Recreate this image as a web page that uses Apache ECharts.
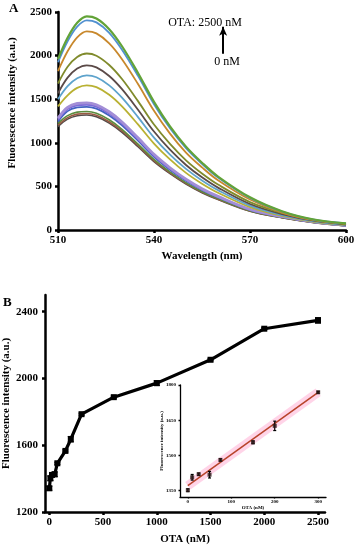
<!DOCTYPE html>
<html>
<head>
<meta charset="utf-8">
<script src="https://cdn.jsdelivr.net/npm/echarts@6/dist/echarts.min.js"></script>
<style>html,body{margin:0;padding:0;background:#fff}#c{width:357px;height:550px}</style>
</head>
<body>
<div id="c"></div>
<script>
// ---------- Panel A: emission spectra ----------
const wavelengths = [510,513,516,519,522,526,530,535,540,545,550,555,560,570,580,590,600];
const spec01 = [1960,2205,2377,2450,2426,2303,2107,1801,1470,1188,956,772,613,375,216,120,76];
const spec02 = [1924,2165,2333,2405,2381,2261,2068,1768,1443,1166,938,758,601,368,212,118,75];
const spec03 = [1822,2050,2210,2278,2255,2141,1959,1674,1367,1105,888,718,570,349,200,112,71];
const spec04 = [1680,1872,1984,2024,1999,1892,1731,1478,1209,987,799,648,521,320,196,114,68];
const spec05 = [1568,1747,1851,1889,1865,1766,1615,1379,1129,921,746,604,486,298,183,107,63];
const spec06 = [1499,1650,1740,1774,1752,1659,1517,1295,1060,865,701,568,457,280,172,100,59];
const spec07 = [1418,1545,1630,1659,1638,1551,1418,1211,991,809,655,531,427,262,161,94,56];
const spec08 = [1283,1407,1451,1458,1436,1356,1239,1057,868,714,583,474,386,238,155,93,52];
const spec09 = [1265,1388,1431,1438,1416,1337,1222,1043,856,705,575,467,381,234,152,92,52];
const spec10 = [1243,1363,1405,1412,1391,1313,1200,1024,840,692,565,459,374,230,150,90,51];
const spec11 = [1223,1311,1352,1359,1339,1264,1155,985,809,666,544,442,360,222,144,87,49];
const spec12 = [1202,1289,1329,1336,1316,1242,1136,969,795,655,534,434,354,218,142,86,48];
const spec13 = [1186,1272,1311,1318,1298,1226,1120,956,784,646,527,428,349,215,140,84,47];
const spectra = [spec13,spec12,spec11,spec10,spec09,spec08,spec07,spec06,spec05,spec04,spec03,spec02,spec01];
const specColors = ['#544c4a','#9a5a42','#5c8c3e','#4262c2','#7b6ad8','#a38ed6','#b9b132','#5ea3cc','#5b4a48','#808b2c','#c8882c','#5190d0','#62a338'];
const specWidths = [1.6,1.6,1.6,1.8,2.2,2.8,1.8,1.8,1.8,1.8,1.8,1.8,2.2];
const xTicksA = [510,540,570,600];
const yTicksA = [0,500,1000,1500,2000,2500];

// ---------- Panel B: intensity vs OTA ----------
const otaConc = [0,10,25,50,75,150,200,300,600,1000,1500,2000,2500];
const otaIntensity = [1342,1402,1422,1426,1492,1566,1636,1786,1888,1972,2112,2298,2348];
const otaError = [12,14,8,14,6,6,16,6,6,14,6,6,16];
const xTicksB = [0,500,1000,1500,2000,2500];
const yTicksB = [1200,1600,2000,2400];

// ---------- Inset: linear range ----------
const insetConc = [0,10,25,50,75,150,200,300];
const insetIntensity = [1352,1407,1420,1418,1481,1556,1626,1769];
const insetError = [6,12,5,14,5,6,20,4];
const insetFitX = [0,300];
const insetFitY = [1371,1769];
const xTicksIn = [0,100,200,300];
const yTicksIn = [1350,1500,1650,1800];

const serif = '"Liberation Serif","DejaVu Serif",serif';

function axisCommon(lw, fs, margin, tickLen, ticks) {
  return {
    nameMoveOverlap: false,
    axisLine: {show: true, onZero: false, lineStyle: {color: '#000', width: lw}},
    axisTick: {show: true, inside: false, length: tickLen, lineStyle: {color: '#000', width: lw}, customValues: ticks},
    axisLabel: {color: '#000', fontFamily: serif, fontWeight: 'bold', fontSize: fs, margin: margin,
      customValues: ticks, formatter: v => String(v)},
    splitLine: {show: false},
    nameTextStyle: {color: '#000', fontFamily: serif, fontWeight: 'bold', fontSize: fs}
  };
}

function errRender(params, api) {
  const x = api.value(0), y = api.value(1), e = api.value(2);
  const capW = api.value(3);
  const top = api.coord([x, y + e]);
  const bot = api.coord([x, y - e]);
  const st = {stroke: '#000', lineWidth: 1.2};
  return {type: 'group', children: [
    {type: 'line', shape: {x1: top[0], y1: top[1], x2: bot[0], y2: bot[1]}, style: st},
    {type: 'line', shape: {x1: top[0]-capW, y1: top[1], x2: top[0]+capW, y2: top[1]}, style: st},
    {type: 'line', shape: {x1: bot[0]-capW, y1: bot[1], x2: bot[0]+capW, y2: bot[1]}, style: st}
  ]};
}

const series = [];
spectra.forEach((arr, i) => {
  series.push({
    type: 'line', xAxisIndex: 0, yAxisIndex: 0, smooth: 0.35, showSymbol: false, silent: true,
    data: wavelengths.map((w, k) => [w, arr[k]]),
    lineStyle: {color: specColors[i], width: specWidths[i]},
    z: 2 + i
  });
});
// arrow annotation in panel A
series.push({
  type: 'line', xAxisIndex: 0, yAxisIndex: 0, data: [], silent: true,
  markLine: {silent: true, symbol: ['none', 'arrow'], symbolSize: [6, 9], label: {show: false},
    lineStyle: {color: '#000', width: 2, type: 'solid'},
    data: [[{coord: [561.6, 2020]}, {coord: [561.6, 2330]}]]}
});
// panel B
series.push({
  type: 'custom', xAxisIndex: 1, yAxisIndex: 1, renderItem: errRender, silent: true, z: 5,
  data: otaConc.map((c, k) => [c, otaIntensity[k], otaError[k], 3])
});
series.push({
  type: 'line', xAxisIndex: 1, yAxisIndex: 1, silent: true, z: 4,
  data: otaConc.map((c, k) => [c, otaIntensity[k]]),
  symbol: 'rect', symbolSize: 6, showAllSymbol: true,
  itemStyle: {color: '#000'}, lineStyle: {color: '#000', width: 3.2}
});
// inset
series.push({
  type: 'line', xAxisIndex: 2, yAxisIndex: 2, silent: true, showSymbol: false, z: 6,
  data: insetFitX.map((x, k) => [x, insetFitY[k]]),
  lineStyle: {color: 'rgba(255,160,205,0.45)', width: 9}
});
series.push({
  type: 'line', xAxisIndex: 2, yAxisIndex: 2, silent: true, showSymbol: false, z: 7,
  data: insetFitX.map((x, k) => [x, insetFitY[k]]),
  lineStyle: {color: '#b8432a', width: 1.5}
});
series.push({
  type: 'custom', xAxisIndex: 2, yAxisIndex: 2, renderItem: errRender, silent: true, z: 8,
  data: insetConc.map((c, k) => [c, insetIntensity[k], insetError[k], 1.5])
});
series.push({
  type: 'scatter', xAxisIndex: 2, yAxisIndex: 2, silent: true, z: 9,
  data: insetConc.map((c, k) => [c, insetIntensity[k]]),
  symbol: 'rect', symbolSize: 4, itemStyle: {color: '#2a1616'}
});

const option = {
  animation: false,
  backgroundColor: '#fff',
  grid: [
    {left: 58, top: 12, width: 288, height: 218, containLabel: false, outerBoundsMode: 'none'},
    {left: 45, top: 295, width: 280, height: 217, containLabel: false, outerBoundsMode: 'none'},
    {left: 180, top: 385, width: 146, height: 112, z: 10, containLabel: false, outerBoundsMode: 'none'}
  ],
  xAxis: [
    Object.assign(axisCommon(2.5, 11, 5, 3, xTicksA), {
      type: 'value', gridIndex: 0, min: 510, max: 600, interval: 30,
      name: 'Wavelength (nm)', nameLocation: 'middle', nameGap: 21}),
    Object.assign(axisCommon(2.5, 11, 5, 3, xTicksB), {
      type: 'value', gridIndex: 1, min: -40, max: 2565,
      name: 'OTA (nM)', nameLocation: 'middle', nameGap: 22}),
    Object.assign(axisCommon(1.3, 5, 2, 1.5, xTicksIn), {
      type: 'value', gridIndex: 2, min: -18, max: 318,
      name: 'OTA (nM)', nameLocation: 'middle', nameGap: 8})
  ],
  yAxis: [
    Object.assign(axisCommon(2.5, 11, 6, 3, yTicksA), {
      type: 'value', gridIndex: 0, min: 0, max: 2500, interval: 500,
      name: 'Fluorescence intensity (a.u.)', nameLocation: 'middle', nameGap: 40}),
    Object.assign(axisCommon(2.5, 11, 7, 3, yTicksB), {
      type: 'value', gridIndex: 1, min: 1200, max: 2500,
      name: 'Fluorescence intensity (a.u.)', nameLocation: 'middle', nameGap: 33}),
    Object.assign(axisCommon(1.3, 5, 4, 1.5, yTicksIn), {
      type: 'value', gridIndex: 2, min: 1323, max: 1800,
      name: 'Fluorescence intensity (a.u.)', nameLocation: 'middle', nameGap: 16})
  ],
  graphic: [
    {type: 'text', left: 9, top: 2, style: {text: 'A', font: 'bold 13px ' + serif, fill: '#000'}},
    {type: 'text', left: 3, top: 296, style: {text: 'B', font: 'bold 13px ' + serif, fill: '#000'}},
    {type: 'text', x: 205, y: 23, style: {text: 'OTA: 2500 nM', font: '12px ' + serif, fill: '#000', align: 'center', verticalAlign: 'middle'}},
    {type: 'text', x: 227, y: 62, style: {text: '0 nM', font: '12px ' + serif, fill: '#000', align: 'center', verticalAlign: 'middle'}}
  ],
  series: series
};
// shift panel A y-name upward a bit
option.yAxis[0].nameTextStyle = Object.assign({}, option.yAxis[0].nameTextStyle, {padding: [0, 0, 0, 36]});

const chart = echarts.init(document.getElementById('c'), null, {renderer: 'canvas'});
chart.setOption(option);
</script>
</body>
</html>
